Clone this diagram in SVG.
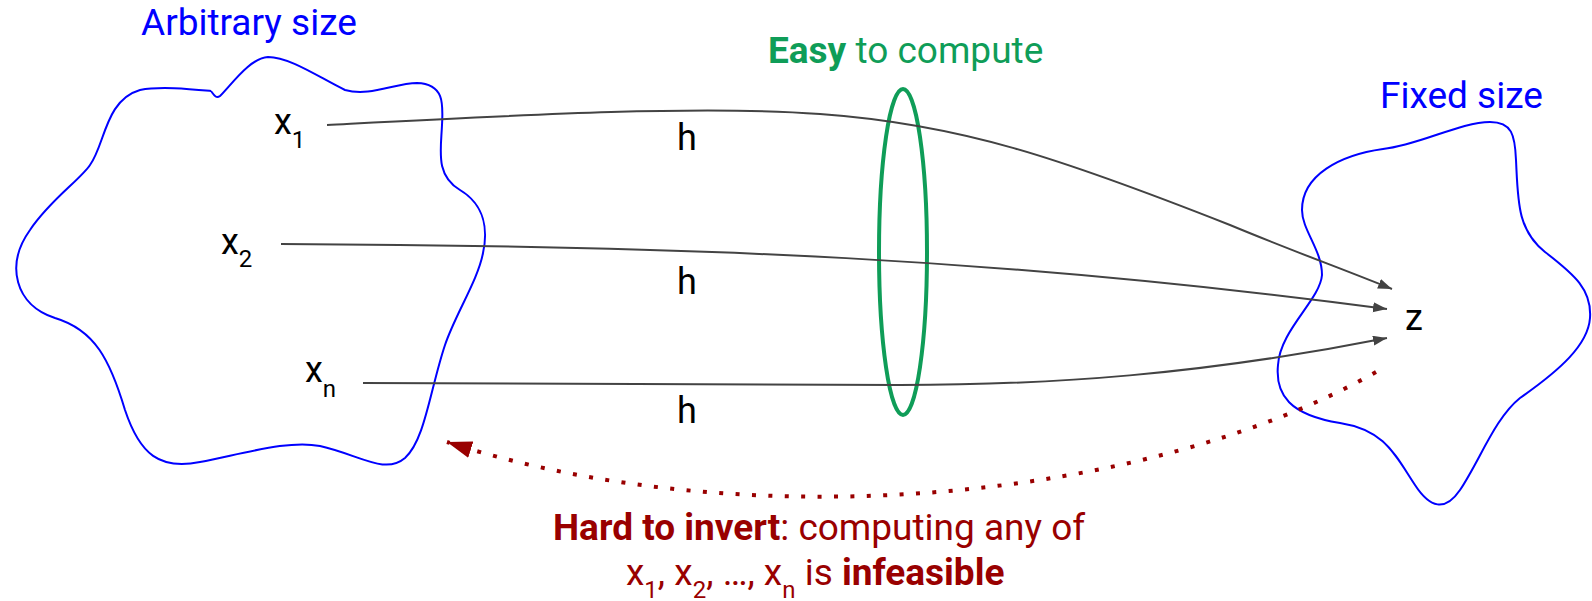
<svg xmlns="http://www.w3.org/2000/svg" width="1592" height="601" viewBox="0 0 1592 601">
<style>
text{font-family:Roboto,"Liberation Sans",sans-serif;}
.blob{fill:none;stroke:#0000ff;stroke-width:2;}
.conn{fill:none;stroke:#434343;stroke-width:2;}
.lbl{font-size:36px;fill:#000;}
.sub{font-size:24px;}
.blue{font-size:37px;fill:#0000ff;}
.green{font-size:37px;fill:#0f9d58;}
.red{font-size:37px;fill:#990000;}
.b{font-weight:bold;}
</style>
<defs>
<marker id="ah" markerUnits="userSpaceOnUse" markerWidth="15" markerHeight="12" refX="14" refY="5" orient="auto">
<path d="M0,0 L14,5 L0,10 z" fill="#434343"/>
</marker>
<marker id="ahr" markerUnits="userSpaceOnUse" markerWidth="27" markerHeight="18" refX="25" refY="8.5" orient="auto">
<path d="M0,0 L25,8.5 L0,17 z" fill="#990000"/>
</marker>
</defs>
<g id="input-set">
<path class="blob" d="M211,91 C214,95 216,99 220,96 C232,84 250,58 268,57 C290,57 320,78 345,90 C370,97 395,83 417,83 C445,84 443,105 442,125 C441,150 435,175 460,190 C485,205 488,230 483,253 C478,280 455,315 445,345 C430,390 425,440 405,458 C385,475 360,455 320,446 C290,440 250,452 200,462 C160,470 140,455 125,410 C110,360 95,330 55,318 C15,305 5,265 30,230 C50,200 80,180 90,165 C105,145 105,100 140,90 C160,86 190,89 211,91"/>
<text class="blue" x="141" y="35">Arbitrary size</text>
</g>
<g id="x1"><text class="lbl" x="274" y="134">x<tspan class="sub" dy="14">1</tspan></text></g>
<g id="x2"><text class="lbl" x="221" y="254">x<tspan class="sub" dy="13">2</tspan></text></g>
<g id="xn"><text class="lbl" x="305" y="382">x<tspan class="sub" dy="15">n</tspan></text></g>
<g id="output-set">
<path class="blob" d="M1383,149 C1420,145 1460,122 1490,122 C1512,122 1515,135 1516,160 C1518,200 1517,230 1545,252 C1575,275 1592,290 1590,318 C1588,345 1560,370 1520,398 C1495,418 1480,460 1460,490 C1445,512 1430,508 1415,485 C1395,455 1385,430 1340,423 C1290,415 1275,395 1278,365 C1280,330 1320,300 1322,275 C1322,250 1302,230 1302,210 C1302,175 1340,155 1383,149"/>
<text class="blue" x="1380" y="108">Fixed size</text>
</g>
<g id="z"><text class="lbl" x="1405" y="330">z</text></g>
<g id="hash-lens">
<ellipse cx="903" cy="252" rx="24" ry="163" fill="none" stroke="#0f9d58" stroke-width="4"/>
<text class="green" x="768" y="63"><tspan class="b">Easy</tspan> to compute</text>
</g>
<g id="connectors">
<path class="conn" marker-end="url(#ah)" d="M327,125 C520,115 700,105 820,114 C960,124 1060,158 1230,225 C1290,250 1340,268 1392,289"/>
<path class="conn" marker-end="url(#ah)" d="M281,244 C700,246 1000,258 1387,309"/>
<path class="conn" marker-end="url(#ah)" d="M363,383 L900,385 C1050,385 1200,375 1387,338"/>
<text class="lbl" x="677" y="150">h</text>
<text class="lbl" x="677" y="294">h</text>
<text class="lbl" x="677" y="423">h</text>
<path fill="none" stroke="#990000" stroke-width="4" stroke-dasharray="4 12.4" marker-end="url(#ahr)" d="M1376,372 C1150,500 750,540 447,442"/>
</g>
<g id="invert-note">
<text class="red" x="553" y="540"><tspan class="b">Hard to invert</tspan>: computing any of</text>
<text class="red" x="626" y="585">x<tspan class="sub" dy="13">1</tspan><tspan dy="-13">, x</tspan><tspan class="sub" dy="13">2</tspan><tspan dy="-13">, …, x</tspan><tspan class="sub" dy="13">n</tspan><tspan dy="-13"> is </tspan><tspan class="b">infeasible</tspan></text>
</g>
</svg>
